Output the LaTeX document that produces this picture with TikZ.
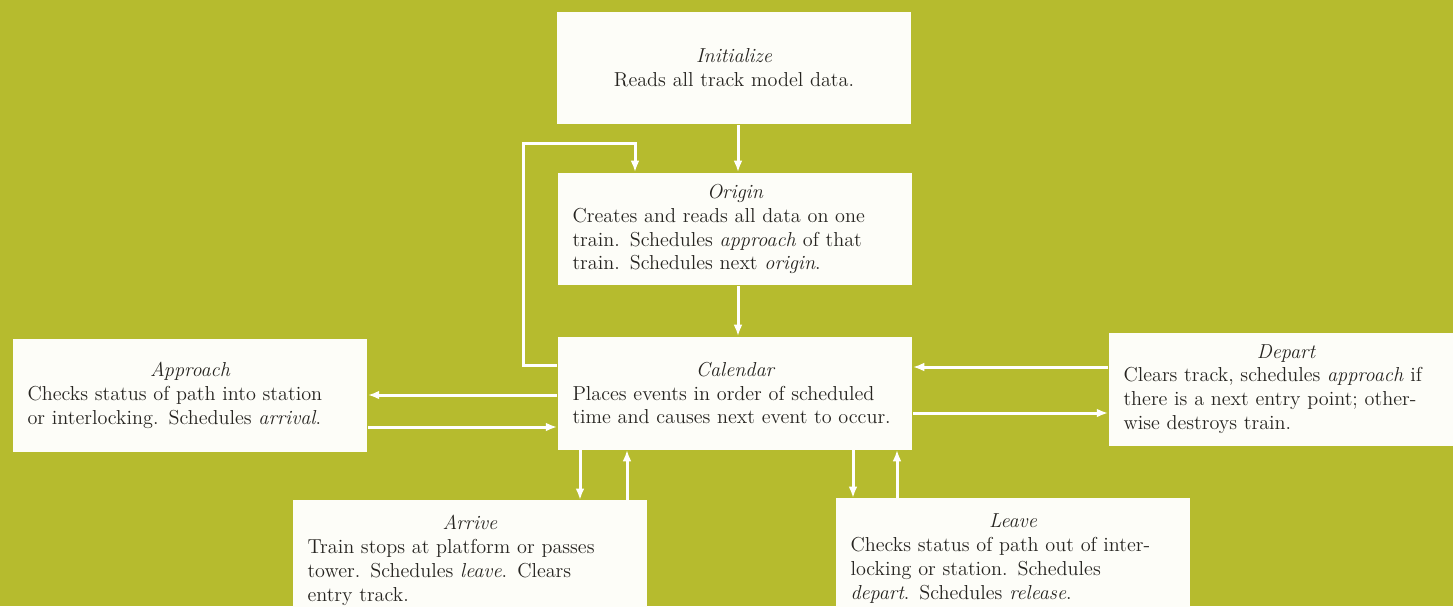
\documentclass[tikz,border=0pt]{standalone}
\usepackage{tikz}
\usetikzlibrary{arrows.meta}

\definecolor{plate}{RGB}{182,187,46}
\definecolor{card}{RGB}{253,253,248}
\definecolor{ink}{RGB}{38,36,32}

\newcommand{\evtext}[2]{{\centering\itshape #1\par}#2}

\begin{document}
\begin{tikzpicture}[x=0.02cm,y=-0.02cm,
  ev/.style={fill=card,text=ink,minimum width=7.1cm,minimum height=2.26cm,
    text width=6.5cm,align=left,inner sep=0pt,
    font=\fontsize{11.5}{13.6}\selectfont},
  flow/.style={draw=white,line width=1.7pt,-{Latex[length=6.5pt,width=5pt]}}]
\useasboundingbox (0,0) rectangle (1453,606);
\clip (0,0) rectangle (1453,606);
\fill[plate] (0,0) rectangle (1453,606);
%\draw[color=gray!20,step=50] (0,0) grid (1453,606);

\node[ev,align=center] (init) at (734,68) {\evtext{Initialize}{Reads all track model data.}};
\node[ev] (orig) at (735,229) {\evtext{Origin}{Creates and reads all data on one\\
  train. Schedules \textit{approach} of that\\ train. Schedules next \textit{origin}.}};
\node[ev] (cal) at (735,393) {\evtext{Calendar}{Places events in order of scheduled\\
  time and causes next event to occur.}};
\node[ev] (appr) at (190,395) {\evtext{Approach}{Checks status of path into station\\
  or interlocking. Schedules \textit{arrival}.}};
\node[ev] (dep) at (1286,389) {\evtext{Depart}{Clears track, schedules \textit{approach} if\\
  there is a next entry point; other-\\wise destroys train.}};
\node[ev,anchor=north,minimum height=2.4cm] (arr) at (470,500) {\evtext{Arrive}{Train stops at platform or passes\\
  tower. Schedules \textit{leave}. Clears\\ entry track.}};
\node[ev,anchor=north,minimum height=2.4cm] (lv) at (1013,498) {\evtext{Leave}{Checks status of path out of inter-\\
  locking or station. Schedules\\ \textit{depart}. Schedules \textit{release}.}};

\draw[flow] (init.south -| 738,0) -- (orig.north -| 738,0);
\draw[flow] (orig.south -| 738,0) -- (cal.north -| 738,0);
% back to origin
\draw[flow] (cal.west |- 0,365) -| (523,143) -| (orig.north -| 635,0);

\draw[flow] (cal.west |- 0,395) -- (appr.east |- 0,395);
\draw[flow] (appr.east |- 0,427) -- (cal.west |- 0,427);
\draw[flow] (dep.west |- 0,367) -- (cal.east |- 0,367);
\draw[flow] (cal.east |- 0,413) -- (dep.west |- 0,413);

\draw[flow] (cal.south -| 580,0) -- (arr.north -| 580,0);
\draw[flow] (arr.north -| 627,0) -- (cal.south -| 627,0);
\draw[flow] (cal.south -| 853,0) -- (lv.north -| 853,0);
\draw[flow] (lv.north -| 897,0) -- (cal.south -| 897,0);
\end{tikzpicture}
\end{document}
